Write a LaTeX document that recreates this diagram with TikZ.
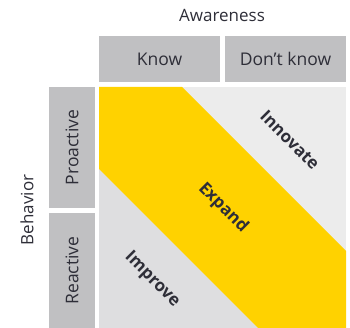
\documentclass[tikz,border=0pt]{standalone}
\usepackage{fontspec}
\setmainfont{Open Sans}
\usetikzlibrary{positioning}
\definecolor{boxgrey}{RGB}{192,192,194}
\definecolor{lightgrey}{RGB}{236,236,236}
\definecolor{midgrey}{RGB}{222,222,224}
\definecolor{eyyellow}{RGB}{255,210,0}
\definecolor{txtgrey}{RGB}{46,46,56}
\tikzset{
  headbox/.style={fill=boxgrey,inner sep=0pt,text=txtgrey,font=\fontsize{17.5}{19}\selectfont},
  axislabel/.style={text=txtgrey,font=\fontsize{17}{19}\selectfont},
  zonelabel/.style={text=txtgrey,font=\bfseries\fontsize{17}{19}\selectfont,rotate=-45,inner sep=0pt}
}
\begin{document}
\begin{tikzpicture}[x=1pt,y=-1pt]
        \useasboundingbox (0,0) rectangle (350,328);
        % matrix regions
        \fill[lightgrey] (99,87) rectangle (346,328);
        \fill[midgrey] (99,169) -- (258,328) -- (99,328) -- cycle;
        \fill[eyyellow] (99,87) -- (182,87) -- (346,251) -- (346,328) -- (258,328) -- (99,169) -- cycle;
        % headers
        \node[headbox,minimum width=121pt,minimum height=46pt] (know) at (159.5,59) {Know};
        \node[headbox,minimum width=121pt,minimum height=46pt] (dontknow) at (285.5,59) {Don’t know};
        \node[headbox,minimum width=121pt,minimum height=46pt,rotate=90] (proactive) at (72,147.5) {Proactive};
        \node[headbox,minimum width=115pt,minimum height=46pt,rotate=90] (reactive) at (72,270.5) {Reactive};
        \node[axislabel] (awareness) at (222,15) {Awareness};
        \node[axislabel,rotate=90] (behavior) at (27,210) {Behavior};
        \node[zonelabel] (innovate) at (290,140) {Innovate};
        \node[zonelabel] (expand) at (223,208) {Expand};
        \node[zonelabel] (improve) at (152,280) {Improve};
\end{tikzpicture}
\end{document}
